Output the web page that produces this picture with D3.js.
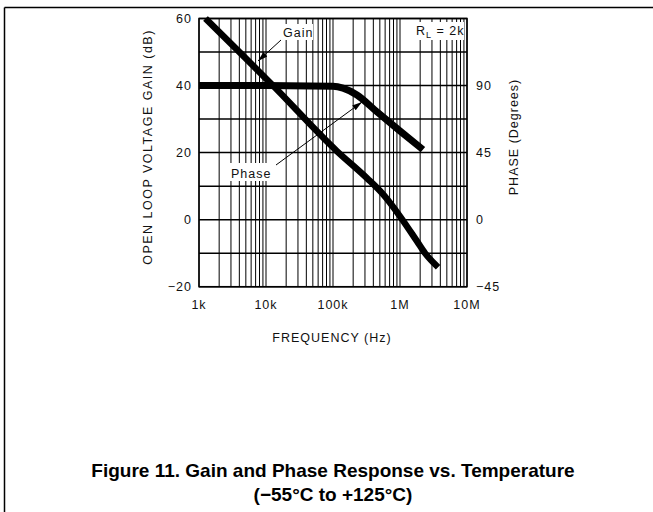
<!DOCTYPE html>
<html lang="en">
<head>
<meta charset="UTF-8">
<title>Gain and Phase Response</title>
<script src="https://d3js.org/d3.v7.min.js"></script>
<style>
  body { margin: 0; background: #fff; }
  .lbl { font-family: "Liberation Sans", Arial, sans-serif; font-size: 12.5px; fill: #111; letter-spacing: 1px; }
  .cap { font-family: "Liberation Sans", Arial, sans-serif; font-size: 19px; font-weight: bold; fill: #000; }
</style>
</head>
<body>
<svg width="653" height="512"></svg>
<script>
  // data
  const freqTicks = [1e3, 1e4, 1e5, 1e6, 1e7]
  const freqLabels = ["1k", "10k", "100k", "1M", "10M"]
  const gainTicks = [60, 40, 20, 0, -20]
  const phaseTicks = [90, 45, 0, -45]

  const gainFreq = [1.25e3, 1.27e4, 1.15e5, 3.21e5, 5.57e5, 1e6, 1.8e6, 2.36e6, 3.7e6]
  const gainDb   = [60, 40, 20.4, 12.4, 7.6, 1, -6.5, -10, -14.2]

  const phaseFreq = [1e3, 1e4, 1e5, 1.41e5, 2.28e5, 4.54e5, 1e6, 2.2e6]
  const phaseDeg  = [90, 90, 89.6, 88.3, 83.7, 72.3, 59.5, 47]

  const svg = d3.select("svg")
  const pLeft = 199, pRight = 467, pTop = 18.5, pBottom = 286.7

  // outer frame
  svg.append("line").attr("x1", 4.5).attr("x2", 653).attr("y1", 7.5).attr("y2", 7.5).attr("stroke", "#000").attr("stroke-width", 1.5)
  svg.append("line").attr("x1", 4.5).attr("x2", 4.5).attr("y1", 7.5).attr("y2", 512).attr("stroke", "#000").attr("stroke-width", 1.5)

  const x = d3.scaleLog().domain([1e3, 1e7]).range([pLeft, pRight])
  const y = d3.scaleLinear().domain([-20, 60]).range([pBottom, pTop])
  const yp = d3.scaleLinear().domain([-45, 135]).range([pBottom, pTop])

  const g = svg.append("g")

  // vertical grid: every 1..9 per decade
  let vx = []
  for (let d = 3; d < 7; d++) for (let m = 1; m < 10; m++) vx.push(m * Math.pow(10, d))
  vx.push(1e7)
  g.selectAll(".vg").data(vx).enter().append("line")
    .attr("x1", d => x(d)).attr("x2", d => x(d))
    .attr("y1", pTop).attr("y2", pBottom)
    .attr("stroke", "#000").attr("stroke-width", 1)

  // horizontal grid every 10 dB
  g.selectAll(".hg").data(d3.range(-20, 61, 10)).enter().append("line")
    .attr("x1", pLeft).attr("x2", pRight)
    .attr("y1", d => y(d)).attr("y2", d => y(d))
    .attr("stroke", "#000").attr("stroke-width", 1.5)

  g.append("rect").attr("x", pLeft).attr("y", pTop).attr("width", pRight - pLeft).attr("height", pBottom - pTop)
    .attr("fill", "none").attr("stroke", "#000").attr("stroke-width", 1.5)

  // curves
  const lineG = d3.line().x(d => x(d[0])).y(d => y(d[1])).curve(d3.curveMonotoneX)
  const lineP = d3.line().x(d => x(d[0])).y(d => yp(d[1])).curve(d3.curveMonotoneX)

  g.append("path").attr("d", lineP(d3.zip(phaseFreq, phaseDeg)))
    .attr("fill", "none").attr("stroke", "#000").attr("stroke-width", 7)
  g.append("path").attr("d", lineG(d3.zip(gainFreq, gainDb)))
    .attr("fill", "none").attr("stroke", "#000").attr("stroke-width", 6.5)

  // arrow marker
  svg.append("defs").append("marker").attr("id", "arr")
    .attr("viewBox", "0 0 10 10").attr("refX", 10).attr("refY", 5)
    .attr("markerWidth", 10).attr("markerHeight", 10).attr("orient", "auto")
    .attr("markerUnits", "userSpaceOnUse")
    .append("path").attr("d", "M0,2 L10,5 L0,8 Z").attr("fill", "#000")

  // Gain annotation
  g.append("rect").attr("x", 281).attr("y", 24).attr("width", 32).attr("height", 16).attr("fill", "#fff")
  g.append("text").attr("class", "lbl").attr("x", 283).attr("y", 37).text("Gain")
  g.append("line").attr("x1", 281).attr("y1", 40).attr("x2", 258).attr("y2", 61)
    .attr("stroke", "#000").attr("stroke-width", 1).attr("marker-end", "url(#arr)")

  // Phase annotation
  g.append("rect").attr("x", 229).attr("y", 163).attr("width", 44).attr("height", 18).attr("fill", "#fff")
  g.append("text").attr("class", "lbl").attr("x", 231).attr("y", 178).text("Phase")
  g.append("line").attr("x1", 276).attr("y1", 165).attr("x2", 362).attr("y2", 102)
    .attr("stroke", "#000").attr("stroke-width", 1).attr("marker-end", "url(#arr)")

  // RL = 2k
  g.append("rect").attr("x", 414).attr("y", 22).attr("width", 50).attr("height", 18).attr("fill", "#fff")
  const rl = g.append("text").attr("class", "lbl").attr("x", 416).attr("y", 35)
  rl.append("tspan").text("R")
  rl.append("tspan").attr("dy", 3).attr("font-size", 9).text("L")
  rl.append("tspan").attr("dy", -3).text(" = 2k")

  // tick labels
  svg.selectAll(".gl").data(gainTicks).enter().append("text").attr("class", "lbl")
    .attr("x", 192).attr("y", d => y(d) + 4.5).attr("text-anchor", "end")
    .text(d => d < 0 ? "\u2212" + Math.abs(d) : d)
  svg.selectAll(".pl").data(phaseTicks).enter().append("text").attr("class", "lbl")
    .attr("x", 476).attr("y", d => yp(d) + 4.5)
    .text(d => d < 0 ? "\u2212" + Math.abs(d) : d)
  svg.selectAll(".fl").data(freqTicks).enter().append("text").attr("class", "lbl")
    .attr("x", d => x(d)).attr("y", 309).attr("text-anchor", "middle")
    .text((d, i) => freqLabels[i])

  // axis titles
  svg.append("text").attr("class", "lbl").attr("text-anchor", "middle").style("letter-spacing", "1.5px")
    .attr("transform", "translate(152,147) rotate(-90)").text("OPEN LOOP VOLTAGE GAIN (dB)")
  svg.append("text").attr("class", "lbl").attr("text-anchor", "middle")
    .attr("transform", "translate(518,137) rotate(-90)").text("PHASE (Degrees)")
  svg.append("text").attr("class", "lbl").attr("text-anchor", "middle")
    .attr("x", 332).attr("y", 342).text("FREQUENCY (Hz)")

  // caption
  svg.append("text").attr("class", "cap").attr("text-anchor", "middle").attr("x", 333).attr("y", 477)
    .text("Figure 11. Gain and Phase Response vs. Temperature")
  svg.append("text").attr("class", "cap").attr("text-anchor", "middle").attr("x", 333).attr("y", 501)
    .text("(\u221255\u00b0C to +125\u00b0C)")
</script>
</body>
</html>
